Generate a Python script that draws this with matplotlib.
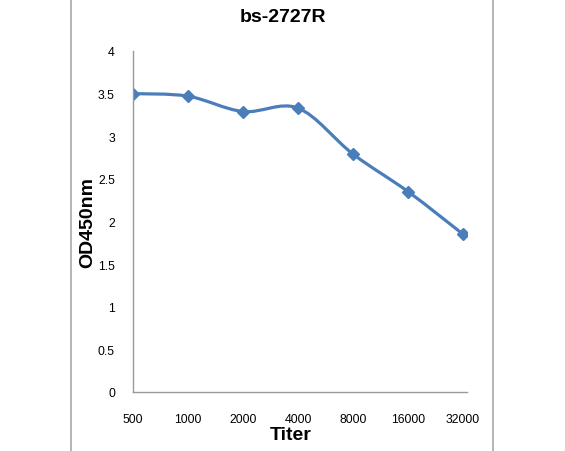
import matplotlib
matplotlib.use("Agg")
import matplotlib.pyplot as plt
from matplotlib.path import Path
from matplotlib.patches import PathPatch
from matplotlib.lines import Line2D

titers = ["500", "1000", "2000", "4000", "8000", "16000", "32000"]
od450 = [3.50, 3.47, 3.29, 3.33, 2.79, 2.35, 1.85]
y_ticks = [0, 0.5, 1, 1.5, 2, 2.5, 3, 3.5, 4]
y_tick_labels = ["0", "0.5", "1", "1.5", "2", "2.5", "3", "3.5", "4"]

color = "#4A7EBB"
plt.rcParams["font.family"] = ["Liberation Sans", "DejaVu Sans"]

fig = plt.figure(figsize=(5.65, 4.52), dpi=100)
ax = fig.add_axes([133/565, 1-393/452, (467-133)/565, (393-52)/452])

xs = list(range(len(titers)))

# smoothed line (Catmull-Rom style bezier through the data points)
verts = [(xs[0], od450[0])]
codes = [Path.MOVETO]
t = 1/6
n = len(xs)
for i in range(n - 1):
    p0 = (xs[max(i-1, 0)], od450[max(i-1, 0)])
    p1 = (xs[i], od450[i])
    p2 = (xs[i+1], od450[i+1])
    p3 = (xs[min(i+2, n-1)], od450[min(i+2, n-1)])
    c1 = (p1[0] + (p2[0]-p0[0])*t, p1[1] + (p2[1]-p0[1])*t)
    c2 = (p2[0] - (p3[0]-p1[0])*t, p2[1] - (p3[1]-p1[1])*t)
    verts += [c1, c2, p2]
    codes += [Path.CURVE4]*3
ax.add_patch(PathPatch(Path(verts, codes), facecolor="none", edgecolor=color,
                       lw=2.3, capstyle="round", joinstyle="round"))
ax.plot(xs, od450, linestyle="none", marker="D", markersize=6.5, color=color)

ax.set_xlim(0, 6.07)
ax.set_ylim(0, 4)
ax.set_xticks(xs)
ax.set_xticklabels(titers, fontsize=8.8)
ax.set_yticks(y_ticks)
ax.set_yticklabels(y_tick_labels, fontsize=8.8)
ax.tick_params(axis="both", length=0, colors="#000000")
ax.tick_params(axis="x", pad=15)
ax.tick_params(axis="y", pad=13)
for s in ["top", "right"]:
    ax.spines[s].set_visible(False)
for s in ["left", "bottom"]:
    ax.spines[s].set_color("#999999")
    ax.spines[s].set_linewidth(1.0)

fig.text(283/565, 1-18/452, "bs-2727R", ha="center", va="center",
         fontsize=14, fontweight="bold")
fig.text(291/565, 1-436/452, "Titer", ha="center", va="center",
         fontsize=14, fontweight="bold")
fig.text(88/565, 1-222/452, "OD450nm", ha="center", va="center",
         fontsize=14, fontweight="bold", rotation=90)

for xp in [71, 493]:
    fig.add_artist(Line2D([xp/565, xp/565], [0, 1], transform=fig.transFigure,
                          color="#b0b0b0", lw=1.3))

fig.savefig("out.png", dpi=100)
